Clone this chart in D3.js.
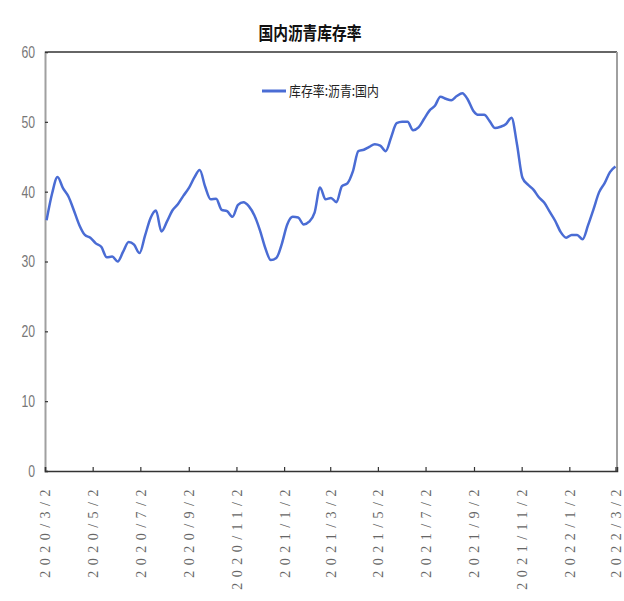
<!DOCTYPE html>
<html><head><meta charset="utf-8">
<script src="https://cdn.jsdelivr.net/npm/d3@7"></script>
<style>html,body{margin:0;padding:0;background:#fff;}</style>
</head><body>
<svg id="chart" width="624" height="601"></svg>
<script>
// ---- data ----
const chartTitle = "国内沥青库存率";
const seriesName = "库存率:沥青:国内";
const startDate = "2020-03-04";   // first weekly observation
const values = [
  35.9, 39.7, 42.1, 40.5, 39.3, 37.3, 35.2, 33.8, 33.4, 32.6,
  32.1, 30.6, 30.7, 30.0, 31.4, 32.8, 32.4, 31.2, 33.7, 36.2,
  37.3, 34.3, 35.7, 37.3, 38.2, 39.4, 40.5, 42.0, 43.1, 40.7,
  38.9, 39.0, 37.4, 37.2, 36.4, 38.1, 38.5, 37.9, 36.6, 34.5,
  31.9, 30.2, 30.5, 32.5, 35.3, 36.4, 36.3, 35.3, 35.7, 37.0,
  40.6, 38.9, 39.1, 38.5, 40.8, 41.2, 42.9, 45.8, 46.0, 46.4,
  46.8, 46.6, 45.8, 47.8, 49.8, 50.0, 50.0, 48.8, 49.2, 50.4,
  51.6, 52.3, 53.6, 53.3, 53.1, 53.7, 54.1, 53.2, 51.6, 51.0,
  51.0, 50.1, 49.1, 49.3, 49.7, 50.6, 46.8, 42.0, 41.0, 40.3,
  39.2, 38.4, 37.1, 35.8, 34.2, 33.4, 33.8, 33.8, 33.2, 35.2,
  37.5, 39.9, 41.2, 42.8, 43.6
];
const xTickLabels = ["2020/3/2","2020/5/2","2020/7/2","2020/9/2","2020/11/2","2021/1/2",
  "2021/3/2","2021/5/2","2021/7/2","2021/9/2","2021/11/2","2022/1/2","2022/3/2"];
const yTicks = [0, 10, 20, 30, 40, 50, 60];
const xDomain = ["2020-03-02", "2022-03-04"];

// ---- build ----
const parse = d3.timeParse("%Y-%m-%d");
const parseTick = d3.timeParse("%Y/%m/%d");
const t0 = parse(startDate);
const dates = values.map((v, i) => d3.timeDay.offset(t0, 7 * i));
const data = values.map((v, i) => ({date: dates[i], value: v}));
const tickDates = xTickLabels.map(s => parseTick(s));

const svg = d3.select("#chart");
const L = 45, R = 617, T = 52, B = 471;

const x = d3.scaleTime().domain(xDomain.map(parse)).range([L, R]);
const y = d3.scaleLinear().domain([0, 60]).range([B, T]);

// title (horizontally condensed)
const sx = 0.82;
svg.append("text").attr("x", 310 / sx).attr("y", 40)
  .attr("transform", `scale(${sx},1)`)
  .attr("text-anchor", "middle")
  .attr("font-family", "'Noto Sans CJK SC', sans-serif")
  .attr("font-weight", "bold").attr("font-size", 18).attr("fill", "#111")
  .text(chartTitle);

// frame top and right
svg.append("line").attr("x1", L).attr("x2", R).attr("y1", T).attr("y2", T)
  .attr("stroke", "#333").attr("stroke-width", 1.5);
svg.append("line").attr("x1", R).attr("x2", R).attr("y1", T).attr("y2", B)
  .attr("stroke", "#a0a0a0").attr("stroke-width", 2);

// y axis
const yAxis = d3.axisLeft(y).tickValues(yTicks).tickSize(-3).tickPadding(10)
  .tickFormat(d3.format("d"));
const gy = svg.append("g").attr("transform", `translate(${L},0)`).call(yAxis);
gy.select(".domain").attr("stroke", "#a0a0a0").attr("stroke-width", 2);
gy.selectAll(".tick line").attr("stroke", "#333").attr("stroke-width", 1.2);
const ys = 0.72;
gy.selectAll(".tick text")
  .attr("font-family", "'Liberation Sans', sans-serif")
  .attr("font-size", 17).attr("fill", "#777")
  .attr("x", -10 / ys)
  .attr("transform", `scale(${ys},1)`);

// x axis
const xAxis = d3.axisBottom(x).tickValues(tickDates).tickSize(-4)
  .tickFormat((d, i) => xTickLabels[i]);
const gx = svg.append("g").attr("transform", `translate(0,${B})`).call(xAxis);
gx.select(".domain").attr("stroke", "#333").attr("stroke-width", 1.5);
gx.selectAll(".tick line").attr("stroke", "#333").attr("stroke-width", 1.2);
gx.selectAll(".tick text")
  .attr("font-family", "'Liberation Serif', 'DejaVu Serif', serif")
  .attr("font-size", 14).attr("fill", "#666")
  .attr("letter-spacing", "5.5px")
  .attr("text-anchor", "end")
  .attr("transform", "rotate(-90)")
  .attr("x", -13).attr("y", 0).attr("dy", "0.35em");

// line
const line = d3.line().x(d => x(d.date)).y(d => y(d.value)).curve(d3.curveMonotoneX);
svg.append("path").datum(data).attr("d", line)
  .attr("fill", "none").attr("stroke", "#4a6cd4").attr("stroke-width", 2.5)
  .attr("stroke-linejoin", "round");

// legend
svg.append("line").attr("x1", 262).attr("x2", 286).attr("y1", 91).attr("y2", 91)
  .attr("stroke", "#4a6cd4").attr("stroke-width", 3);
const ls = 0.85;
svg.append("text").attr("x", 289 / ls).attr("y", 96)
  .attr("transform", `scale(${ls},1)`)
  .attr("font-family", "'Noto Sans CJK SC', sans-serif")
  .attr("font-size", 14).attr("fill", "#222")
  .text(seriesName);
</script>
</body></html>
